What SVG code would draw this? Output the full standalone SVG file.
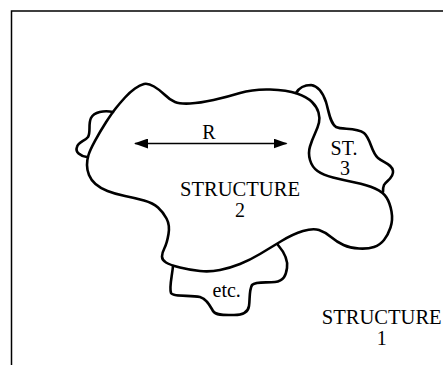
<svg xmlns="http://www.w3.org/2000/svg" width="443" height="365" viewBox="0 0 443 365">
<style>
.blob{fill:none;stroke:#000;stroke-width:2.6;stroke-linejoin:round;stroke-linecap:round}
.frame{fill:none;stroke:#000;stroke-width:1.5}
.lbl{font-family:"Liberation Serif","Times New Roman",serif;font-size:20px;fill:#000;text-anchor:middle}
.arr{stroke:#000;stroke-width:1.6;fill:none}
</style>
<defs>
<marker id="ah" viewBox="0 0 14 10" refX="13" refY="5" markerWidth="14" markerHeight="10" markerUnits="userSpaceOnUse" orient="auto-start-reverse">
<path d="M0,0 L14,5 L0,10 Z" fill="#000"/>
</marker>
</defs>
<rect width="443" height="365" fill="#fff"/>
<g id="structure1">
<path class="frame" d="M11.5,365 L11.5,11 L443,11"/>
<text class="lbl" x="381.7" y="324" textLength="120" lengthAdjust="spacingAndGlyphs">STRUCTURE</text>
<text class="lbl" x="381.7" y="345">1</text>
</g>
<g id="structure2">
<path class="blob" d="M87,165 Q87,160 88.5,155 Q90,150 95,140.8 Q100,131.7 106,122.3 Q112,113 116,108 Q120,103 125,97.5 Q130,92 135,88.5 Q140,85 144,84 Q148,83 154,86.5 Q160,90 165,95 Q170,100 175,102 Q180,104 190,103.5 Q200,103 213.5,100 Q227,97 240,93 Q253,89 270,89.5 Q287,90 297,93.5 Q307,97 312,102 Q317,107 318.5,112.5 Q320,118 319,122.5 Q318,127 315,133.5 Q312,140 310,146.5 Q308,153 310,160 Q312,167 317.5,171 Q323,175 333,177.5 Q343,180 355,182.5 Q367,185 375,188.5 Q383,192 386.5,197.5 Q390,203 391.5,211.5 Q393,220 390.5,227.5 Q388,235 384,240 Q380,245 374,247 Q368,249 359,248.5 Q350,248 343.5,245 Q337,242 331,237 Q325,232 319,230 Q313,228 303,231 Q293,234 281.5,241 Q270,248 260,254 Q250,260 240,264 Q230,268 220,270 Q210,272 200,271 Q190,270 180,267.5 Q170,265 166,262.5 Q162,260 162,256.5 Q162,253 164.5,248 Q167,243 168.5,234 Q170,225 166.5,218.5 Q163,212 158,207.5 Q153,203 144,200.5 Q135,198 125,196 Q115,194 107.5,191 Q100,188 95.5,184 Q91,180 89,175 Q87,170 87,165 Z"/>
<text class="lbl" x="240" y="196" textLength="120" lengthAdjust="spacingAndGlyphs">STRUCTURE</text>
<text class="lbl" x="240" y="216.5">2</text>
</g>
<g id="structure3">
<path class="blob" d="M296,93 C299,88 305,85 311,85 C318,86 323,93 326,102 C329,112 330,123 336,127 C342,130 356,127 364,133 C371,139 371,152 378,158 C384,163 392,164 393,171 C394,178 386,181 384,185 C383,187 383,189 383,192"/>
<text class="lbl" x="344" y="155">ST.</text>
<text class="lbl" x="345" y="175">3</text>
</g>
<g id="structure-left">
<path class="blob" d="M87,157 C80,156 75,152 77,147 C78,142 85,141 88,137 C91,132 88,124 91,118 C94,112 104,110 113,112"/>
</g>
<g id="structure-etc">
<path class="blob" d="M173,266 C172,277 169,287 171,293 C173,297 190,295 200,297 C207,299 210,306 213,311 C216,316 226,315 234,315 C242,315 248,313 249,306 C250,300 249,290 252,285 C256,281 266,283 275,282 C284,281 286,275 287,268 C288,261 284,252 278,245"/>
<text class="lbl" x="226.7" y="296.5">etc.</text>
</g>
<g id="connectors">
<line class="arr" x1="135" y1="143.5" x2="286.5" y2="143.5" marker-start="url(#ah)" marker-end="url(#ah)"/>
<text class="lbl" x="209" y="138.5">R</text>
</g>
</svg>
